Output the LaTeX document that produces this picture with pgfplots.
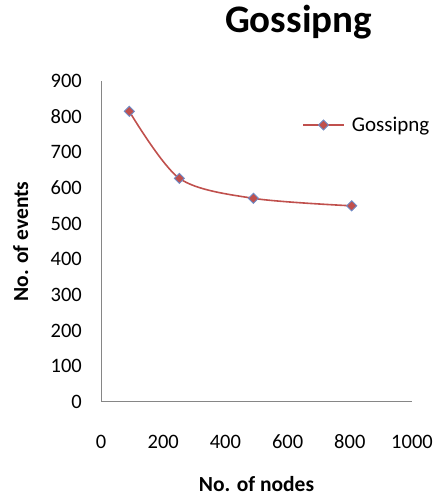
\documentclass[border=0pt]{standalone}
\usepackage{pgfplots}
\pgfplotsset{compat=1.18}
\usepackage{fontspec}
\setmainfont{Carlito}

\definecolor{seriesred}{RGB}{192,80,77}
\definecolor{markedge}{RGB}{110,140,200}
\definecolor{axisgray}{RGB}{134,134,134}

\begin{document}
\begin{tikzpicture}
\useasboundingbox (0,0) rectangle (435bp,498bp);
\begin{axis}[
  at={(101bp,96bp)}, anchor=south west,
  scale only axis, width=311bp, height=321bp,
  xmin=0, xmax=1000, ymin=0, ymax=900,
  xtick={0,200,...,1000}, ytick={0,100,...,900},
  axis lines*=left,
  axis line style={draw=axisgray, line width=1bp},
  major tick length=0pt,
  tick style={draw=none},
  /pgf/number format/assume math mode=true,
  /pgf/number format/1000 sep={},
  ticklabel style={font=\fontsize{20.5bp}{24bp}\selectfont, text=black, inner sep=0pt},
  xticklabel style={anchor=base, yshift=-46bp},
  yticklabel style={anchor=east, xshift=-19bp},
  title={\textbf{Gossipng}},
  title style={at={(axis description cs:0.635,1.134)}, anchor=base,
    font=\fontsize{39bp}{44bp}\selectfont, inner sep=0pt},
  xlabel={\textbf{No. of nodes}},
  xlabel style={at={(axis description cs:0.5,-0.2773)}, anchor=base,
    font=\fontsize{21.5bp}{25bp}\selectfont, inner sep=0pt},
  ylabel={\textbf{No. of events}},
  ylabel style={at={(axis description cs:-0.2347,0.5)}, anchor=base,
    font=\fontsize{21.5bp}{25bp}\selectfont, inner sep=0pt},
  legend style={draw=none, fill=none, inner sep=0pt, column sep=7bp,
    at={(axis description cs:0.6463,0.8629)}, anchor=west,
    font=\fontsize{21bp}{25bp}\selectfont,
    nodes={inner sep=0pt, anchor=west}},
  legend image code/.code={
    \draw[#1, mark repeat=2, mark phase=2]
      plot coordinates {(0bp,0bp) (20.5bp,0bp) (41bp,0bp)};},
]
\addplot[seriesred, line width=1.6bp, smooth,
  mark=square*, mark size=3.6bp,
  mark options={fill=seriesred, draw=markedge, line width=0.9bp, rotate=45}]
  coordinates {(91,815) (252,627) (490,571) (806,550)};
\addlegendentry{Gossipng}
\end{axis}
\end{tikzpicture}
\end{document}
